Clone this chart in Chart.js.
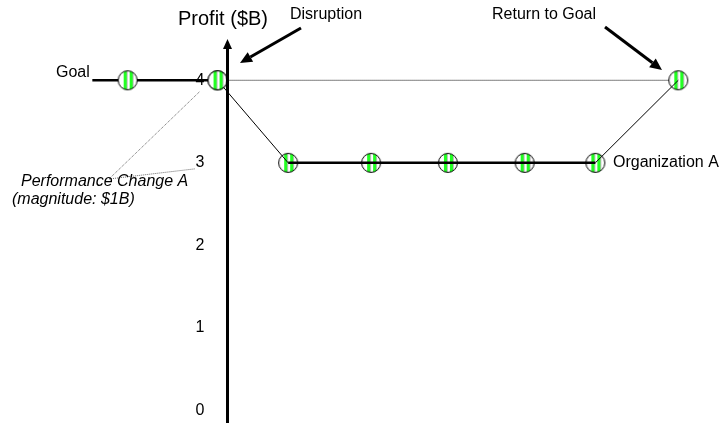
<!DOCTYPE html>
<html>
<head>
<meta charset="utf-8">
<script src="https://cdn.jsdelivr.net/npm/chart.js@4.4.1/dist/chart.umd.min.js"></script>
<style>
  html, body { margin: 0; padding: 0; background: #fff; }
  canvas { display: block; }
</style>
</head>
<body>
<canvas id="chart" width="723" height="423"></canvas>
<script>
// Profit of Organization A ($B) before and after a disruption, against its goal
const goalX = [-1.63, -1.17, 0];
const goalY = [4, 4, 4];
const goalMarker = [0, 10, 10];          // the first goal point is only the line's start
const orgX = [0, 0.92, 2, 3, 4, 4.92, 6];
const orgY = [4, 3, 3, 3, 3, 3, 4];
const goalRefX = [0, 6];                 // dotted goal level carried across
const goalRefY = [4, 4];
const yTicks = [0, 1, 2, 3, 4];

const FONT = '"Liberation Sans", Arial, Helvetica, sans-serif';
const AXIS_AT = 0.124;                   // x value where the profit axis line stands
const LABELS_AT = -0.172;                // x value where the tick labels end

const pts = (xs, ys) => xs.map((x, i) => ({ x, y: ys[i] }));

// White circle with green vertical stripes, used as the point style
function stripedMarker() {
  const c = document.createElement('canvas');
  c.width = 22; c.height = 22;
  const g = c.getContext('2d');
  const cx = 11, cy = 11, r = 9.5;
  g.beginPath(); g.arc(cx, cy, r, 0, Math.PI * 2);
  g.fillStyle = '#fff'; g.fill();
  g.save(); g.clip();
  g.fillStyle = '#22ff22';
  g.fillRect(cx - 4, 0, 3, 22);
  g.fillRect(cx + 2, 0, 3, 22);
  g.fillStyle = 'rgba(60,60,60,0.35)';
  g.fillRect(cx - 1, 0, 1, 22);
  g.fillRect(cx + 5, 0, 1, 22);
  g.restore();
  g.beginPath(); g.arc(cx, cy, r, 0, Math.PI * 2);
  g.lineWidth = 1; g.strokeStyle = '#000'; g.stroke();
  return c;
}
const marker = stripedMarker();

function arrow(ctx, x1, y1, x2, y2, width, headLen, headHalf) {
  const a = Math.atan2(y2 - y1, x2 - x1);
  const bx = x2 - headLen * Math.cos(a), by = y2 - headLen * Math.sin(a);
  ctx.save();
  ctx.strokeStyle = '#000'; ctx.fillStyle = '#000';
  ctx.lineWidth = width; ctx.lineCap = 'butt';
  ctx.beginPath(); ctx.moveTo(x1, y1); ctx.lineTo(bx, by); ctx.stroke();
  ctx.beginPath();
  ctx.moveTo(x2, y2);
  ctx.lineTo(bx + headHalf * Math.sin(a), by - headHalf * Math.cos(a));
  ctx.lineTo(bx - headHalf * Math.sin(a), by + headHalf * Math.cos(a));
  ctx.closePath(); ctx.fill();
  ctx.restore();
}

const annotate = {
  id: 'annotate',
  afterDatasetsDraw(chart) {
    const ctx = chart.ctx;
    const xs = chart.scales.x, ys = chart.scales.y;
    const ax = Math.round(xs.getPixelForValue(AXIS_AT)) + 0.5;
    const top = chart.chartArea.top;
    // profit axis with arrowhead
    ctx.save();
    ctx.strokeStyle = '#000'; ctx.lineWidth = 3;
    ctx.beginPath(); ctx.moveTo(ax, chart.height); ctx.lineTo(ax, top + 8); ctx.stroke();
    ctx.fillStyle = '#000';
    ctx.beginPath();
    ctx.moveTo(ax, top);
    ctx.lineTo(ax - 4.5, top + 10);
    ctx.lineTo(ax + 4.5, top + 10);
    ctx.closePath(); ctx.fill();
    ctx.restore();

    // callout arrows
    arrow(ctx, 301, 28, 240, 63, 3, 12, 5.5);
    arrow(ctx, 605, 27, 662, 70, 3, 12, 5.5);

    // dotted leaders from the performance-change note to the 4 and 3 levels
    ctx.save();
    ctx.strokeStyle = '#666'; ctx.lineWidth = 1; ctx.setLineDash([1, 1]);
    const y4 = ys.getPixelForValue(4), y3 = ys.getPixelForValue(3);
    ctx.beginPath(); ctx.moveTo(109, 179); ctx.lineTo(200, y4 + 11); ctx.stroke();
    ctx.beginPath(); ctx.moveTo(109, 179); ctx.lineTo(195, y3 + 6); ctx.stroke();
    ctx.restore();
  },
  afterDraw(chart) {
    const ctx = chart.ctx;
    ctx.save();
    ctx.fillStyle = '#000';
    ctx.textBaseline = 'middle';
    ctx.textAlign = 'left';
    ctx.font = '20px ' + FONT;
    ctx.fillText('Profit ($B)', 178, 19);
    ctx.font = '16px ' + FONT;
    ctx.fillText('Disruption', 290, 15);
    ctx.fillText('Return to Goal', 492, 15);
    ctx.fillText('Goal', 56, 73);
    ctx.fillText('Organization A', 613, 163);
    ctx.font = 'italic 16px ' + FONT;
    ctx.fillText('Performance Change A', 21, 182);
    ctx.fillText('(magnitude: $1B)', 12, 200);
    ctx.restore();
  }
};

new Chart(document.getElementById('chart'), {
  type: 'line',
  data: {
    datasets: [
      {
        label: 'Goal',
        data: pts(goalX, goalY),
        borderColor: '#000', borderWidth: 2.5,
        pointStyle: marker, pointRadius: goalMarker, pointHoverRadius: goalMarker,
        order: 1
      },
      {
        label: 'Organization A',
        data: pts(orgX, orgY),
        borderColor: '#000', borderWidth: 2.5,
        segment: { borderWidth: c => (c.p0.parsed.y === c.p1.parsed.y ? 2.5 : 1) },
        pointRadius: 0, pointHoverRadius: 0,
        order: 2
      },
      {
        label: 'Organization A markers',
        data: pts(orgX, orgY),
        showLine: false,
        pointStyle: marker, pointRadius: 10, pointHoverRadius: 10,
        order: 3
      },
      {
        label: 'Goal level',
        data: pts(goalRefX, goalRefY),
        borderColor: '#000', borderWidth: 1, borderDash: [1, 1],
        pointRadius: 0, pointHoverRadius: 0,
        order: 5
      }
    ]
  },
  options: {
    responsive: false,
    animation: false,
    devicePixelRatio: 1,
    layout: { padding: { left: 20, right: 20, top: 39, bottom: 0 } },
    plugins: { legend: { display: false }, tooltip: { enabled: false } },
    scales: {
      x: { type: 'linear', display: false, min: -2.572, max: 6.322 },
      y: {
        type: 'linear', min: 0, max: 4.5,
        position: { x: LABELS_AT },
        grid: { display: false, drawTicks: false },
        border: { display: false },
        afterBuildTicks: axis => { axis.ticks = yTicks.map(v => ({ value: v })); },
        afterFit: axis => { axis.paddingTop = 0; axis.paddingBottom = 0; },
        ticks: { padding: 0, color: '#000', font: { family: FONT, size: 16 } }
      }
    }
  },
  plugins: [annotate]
});
</script>
</body>
</html>
